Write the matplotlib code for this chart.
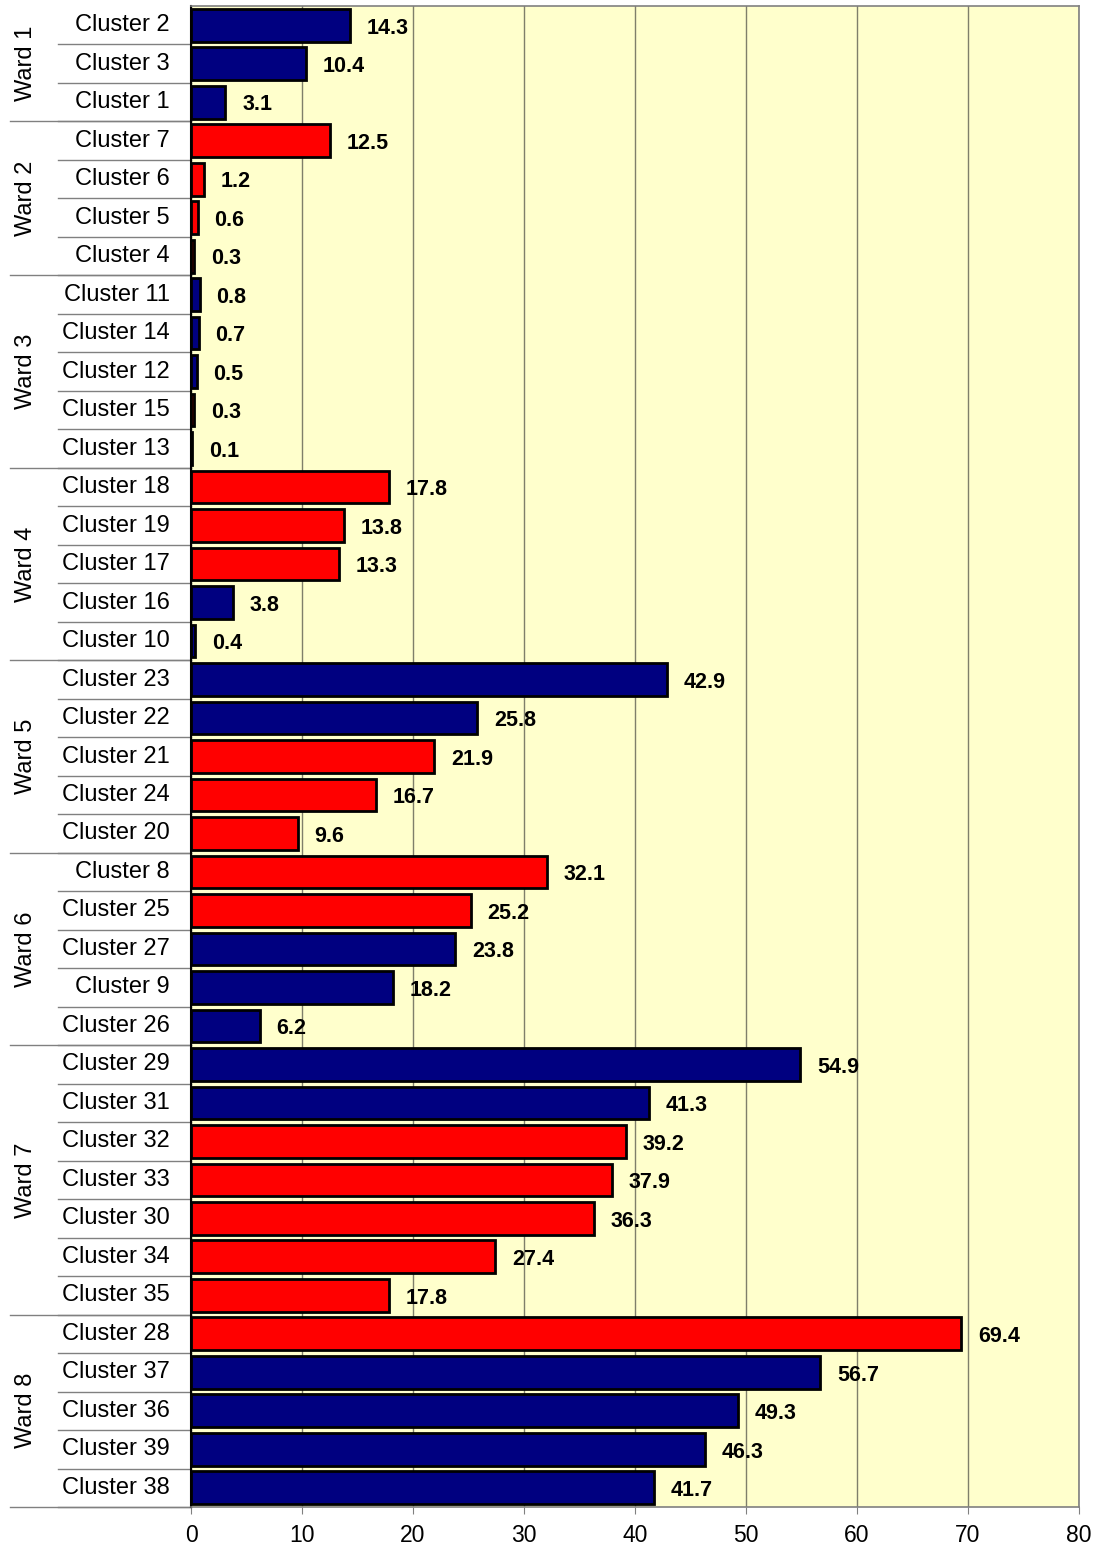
import matplotlib
matplotlib.use("Agg")
import matplotlib.pyplot as plt
import matplotlib.transforms as mtransforms
import numpy as np

plt.rcParams['font.family'] = ['Liberation Sans', 'DejaVu Sans']

# data, top to bottom
wards = ["Ward 1", "Ward 2", "Ward 3", "Ward 4", "Ward 5", "Ward 6", "Ward 7", "Ward 8"]
ward_sizes = [3, 4, 5, 5, 5, 5, 7, 5]
clusters = [
    "Cluster 2", "Cluster 3", "Cluster 1",
    "Cluster 7", "Cluster 6", "Cluster 5", "Cluster 4",
    "Cluster 11", "Cluster 14", "Cluster 12", "Cluster 15", "Cluster 13",
    "Cluster 18", "Cluster 19", "Cluster 17", "Cluster 16", "Cluster 10",
    "Cluster 23", "Cluster 22", "Cluster 21", "Cluster 24", "Cluster 20",
    "Cluster 8", "Cluster 25", "Cluster 27", "Cluster 9", "Cluster 26",
    "Cluster 29", "Cluster 31", "Cluster 32", "Cluster 33", "Cluster 30", "Cluster 34", "Cluster 35",
    "Cluster 28", "Cluster 37", "Cluster 36", "Cluster 39", "Cluster 38",
]
values = [
    14.3, 10.4, 3.1,
    12.5, 1.2, 0.6, 0.3,
    0.8, 0.7, 0.5, 0.3, 0.1,
    17.8, 13.8, 13.3, 3.8, 0.4,
    42.9, 25.8, 21.9, 16.7, 9.6,
    32.1, 25.2, 23.8, 18.2, 6.2,
    54.9, 41.3, 39.2, 37.9, 36.3, 27.4, 17.8,
    69.4, 56.7, 49.3, 46.3, 41.7,
]
# 'b' = navy, 'r' = red
groups = [
    'b', 'b', 'b',
    'r', 'r', 'r', 'r',
    'b', 'b', 'b', 'r', 'b',
    'r', 'r', 'r', 'b', 'b',
    'b', 'b', 'r', 'r', 'r',
    'r', 'r', 'b', 'b', 'b',
    'b', 'b', 'r', 'r', 'r', 'r', 'r',
    'r', 'b', 'b', 'b', 'b',
]
x_ticks = [0, 10, 20, 30, 40, 50, 60, 70, 80]

color_map = {'b': '#000080', 'r': '#FF0000'}
W, H = 1105, 1545
fig = plt.figure(figsize=(W / 100, H / 100), dpi=100)
ax = fig.add_axes([191 / W, (H - 1507) / H, (1079 - 191) / W, (1507 - 6) / H])
ax.set_facecolor('#FFFFCC')

n = len(clusters)
y = np.arange(n)
ax.barh(y, values, height=0.85, color=[color_map[g] for g in groups],
        edgecolor='black', linewidth=2, zorder=3)

for yi, v in zip(y, values):
    ax.annotate(f"{v:.1f}", xy=(v, yi), xytext=(12, -2), textcoords='offset points',
                ha='left', va='center', fontsize=15.5, fontweight='bold', zorder=4)

ax.set_xlim(0, 80)
ax.set_ylim(n - 0.5, -0.5)
ax.set_xticks(x_ticks)
ax.set_xticklabels([str(t) for t in x_ticks], fontsize=16.5)
ax.tick_params(axis='x', direction='out', length=5, color='#808080', pad=7)
ax.set_yticks([])
ax.grid(axis='x', color='#7F7F6A', linewidth=1, zorder=1)
ax.set_axisbelow(True)

for side in ['top', 'right', 'bottom']:
    ax.spines[side].set_color('#808080')
    ax.spines[side].set_linewidth(1.2)
ax.spines['left'].set_color('black')
ax.spines['left'].set_linewidth(1.5)

# category labels and separators on the left
trans = mtransforms.blended_transform_factory(ax.transAxes, ax.transData)
x_cl = (58 - 191) / (1079 - 191)
x_wd = (10 - 191) / (1079 - 191)
x_lab = (170 - 191) / (1079 - 191)
x_wlab = (26 - 191) / (1079 - 191)

for yi, name in zip(y, clusters):
    ax.text(x_lab, yi, name, transform=trans, ha='right', va='center', fontsize=17)
    ax.plot([x_cl, 0], [yi + 0.5, yi + 0.5], transform=trans, color='#808080',
            linewidth=1, clip_on=False)

start = 0
for wname, size in zip(wards, ward_sizes):
    mid = start + (size - 1) / 2
    ax.text(x_wlab, mid, wname, transform=trans, ha='center', va='center',
            rotation=90, fontsize=17)
    ax.plot([x_wd, 0], [start + size - 0.5, start + size - 0.5], transform=trans,
            color='#808080', linewidth=1, clip_on=False)
    start += size

fig.savefig("out.png", dpi=100)
